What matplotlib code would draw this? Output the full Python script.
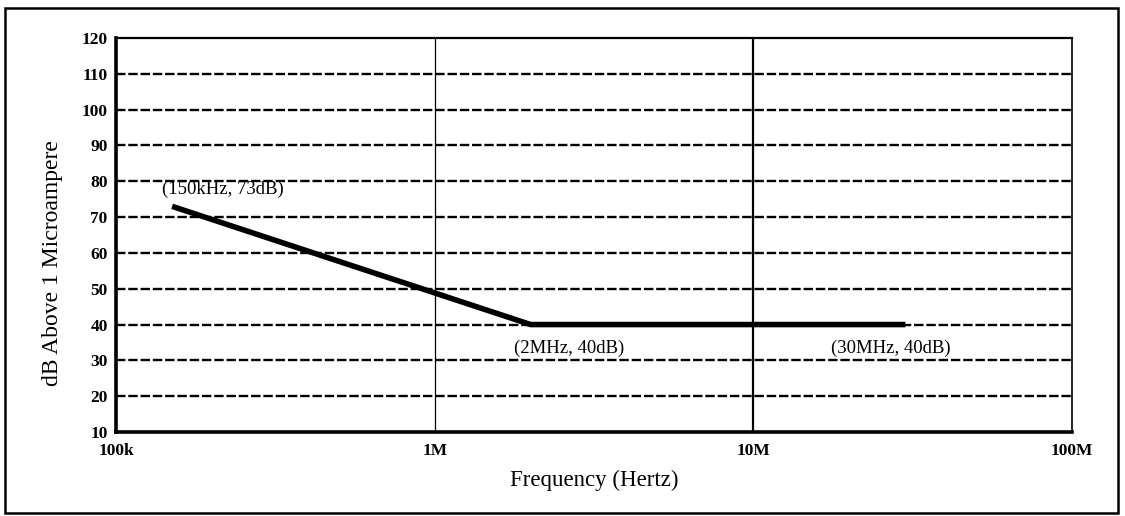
import matplotlib
matplotlib.use("Agg")
import matplotlib.pyplot as plt
from matplotlib.patches import Rectangle

plt.rcParams["font.family"] = ["Liberation Serif", "DejaVu Serif"]

# limit curve
freq_hz = [150e3, 2e6, 30e6]
level_db = [73, 40, 40]
point_labels = ["(150kHz, 73dB)", "(2MHz, 40dB)", "(30MHz, 40dB)"]

y_ticks = [10, 20, 30, 40, 50, 60, 70, 80, 90, 100, 110, 120]
x_ticks = [1e5, 1e6, 1e7, 1e8]
x_tick_labels = ["100k", "1M", "10M", "100M"]

fig = plt.figure(figsize=(11.25, 5.16), dpi=100)
ax = fig.add_axes([116 / 1125, 1 - 432 / 516, (1072 - 116) / 1125, (432 - 38) / 516])

# outer frame
fig.patches.append(Rectangle((5 / 1125, 3 / 516), 1113 / 1125, 505 / 516,
                             transform=fig.transFigure, fill=False,
                             edgecolor="black", linewidth=1.8))

ax.set_xscale("log")
ax.set_xlim(1e5, 1e8)
ax.set_ylim(10, 120)

for y in y_ticks[1:-1]:
    ax.axhline(y, color="black", linewidth=1.7, linestyle=(0, (4, 1.2)), zorder=1)
ax.axvline(1e6, color="black", linewidth=0.9, zorder=1)
ax.axvline(1e7, color="black", linewidth=1.6, zorder=1)

ax.plot(freq_hz, level_db, color="black", linewidth=4, solid_capstyle="butt", zorder=3)

ax.text(freq_hz[0] * 0.93, level_db[0] + 2.3, point_labels[0], fontsize=13.5, ha="left", va="bottom")
ax.text(2.65e6, level_db[1] - 4.3, point_labels[1], fontsize=13.5, ha="center", va="top")
ax.text(2.7e7, level_db[2] - 4.3, point_labels[2], fontsize=13.5, ha="center", va="top")

ax.set_yticks(y_ticks)
ax.set_yticklabels([str(v) for v in y_ticks], fontweight="bold", fontsize=12.5)
ax.set_xticks(x_ticks)
ax.set_xticklabels(x_tick_labels, fontweight="bold", fontsize=12.5)
ax.minorticks_off()
ax.tick_params(length=0, pad=6)
ax.tick_params(axis="x", pad=8)

ax.spines["left"].set_linewidth(2.6)
ax.spines["bottom"].set_linewidth(2.6)
ax.spines["top"].set_linewidth(1.6)
ax.spines["right"].set_linewidth(1.2)

ax.set_xlabel("Frequency (Hertz)", fontsize=16.5, labelpad=8)
ax.set_ylabel("dB Above 1 Microampere", fontsize=17)
ax.yaxis.set_label_coords(-0.055, 0.43)

fig.savefig("out.png", dpi=100)
